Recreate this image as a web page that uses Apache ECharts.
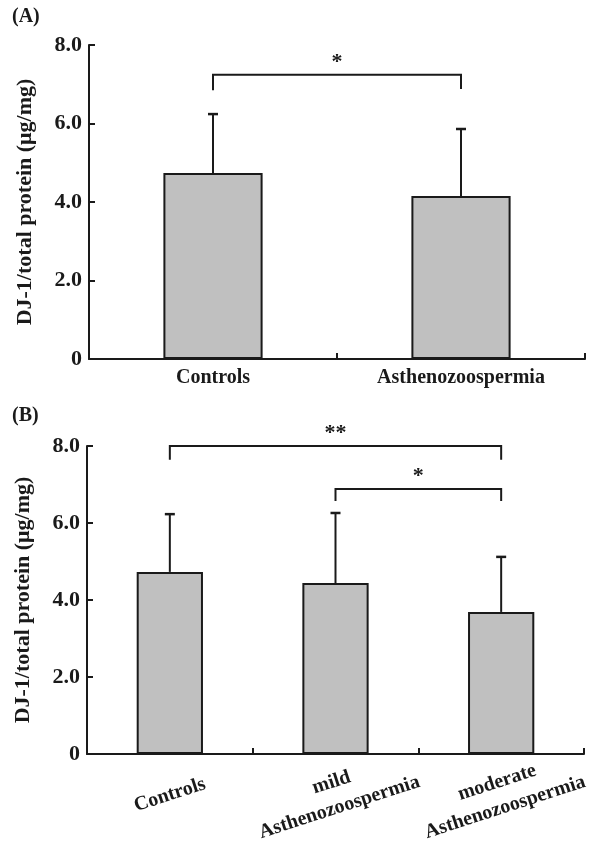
<!DOCTYPE html>
<html><head><meta charset="utf-8">
<script src="https://cdn.jsdelivr.net/npm/echarts@6/dist/echarts.min.js"></script>
<style>html,body{margin:0;padding:0;background:#fff}#c{width:593px;height:841px}</style>
</head><body><div id="c"></div>
<script>
// ---- data ----
const catsA = ['Controls', 'Asthenozoospermia'];
const meanA = [4.74, 4.15];
const sdA = [1.50, 1.71];
const catsB = ['Controls', 'mild\nAsthenozoospermia', 'moderate\nAsthenozoospermia'];
const meanB = [4.73, 4.44, 3.69];
const sdB = [1.50, 1.82, 1.43];
const yTickLabels = ['0', '2.0', '4.0', '6.0', '8.0'];
// significance brackets: [fromIndex, toIndex, barY, leftDropY, rightDropY]
const bracketsA = [[0, 1, 7.24, 6.85, 6.88]];
const bracketLabelsA = ['*'];
const bracketsB = [[0, 2, 8.0, 7.64, 7.64], [1, 2, 6.88, 6.57, 6.57]];
const bracketLabelsB = ['**', '*'];
const yName = 'DJ-1/total protein (\u03bcg/mg)';

const FONT = '"Liberation Serif","Times New Roman",serif';
const INK = '#1a1a1a';

function errData(means, sds) { return means.map((m, i) => [i, m, m + sds[i]]); }

function errRender(params, api) {
  const p0 = api.coord([api.value(0), api.value(1)]);
  const p1 = api.coord([api.value(0), api.value(2)]);
  const hw = 5;
  return { type: 'group', children: [
    { type: 'line', shape: { x1: p0[0], y1: p0[1], x2: p1[0], y2: p1[1] }, style: { stroke: INK, lineWidth: 2 } },
    { type: 'line', shape: { x1: p1[0] - hw, y1: p1[1], x2: p1[0] + hw, y2: p1[1] }, style: { stroke: INK, lineWidth: 2.5 } }
  ]};
}

function bracketRender(labels) {
  return function (params, api) {
    const a = api.coord([api.value(0), api.value(2)]);
    const b = api.coord([api.value(1), api.value(2)]);
    const ad = api.coord([api.value(0), api.value(3)]);
    const bd = api.coord([api.value(1), api.value(4)]);
    return { type: 'group', children: [
      { type: 'polyline', shape: { points: [[ad[0], ad[1]], [a[0], a[1]], [b[0], b[1]], [bd[0], bd[1]]] },
        style: { stroke: INK, lineWidth: 2, fill: 'none' } },
      { type: 'text', style: { text: labels[params.dataIndex], x: (a[0] + b[0]) / 2, y: a[1] - 2,
        align: 'center', verticalAlign: 'bottom', font: 'bold 22px ' + FONT, fill: INK } }
    ]};
  };
}

function yAxis(gridIndex) {
  return {
    type: 'value', gridIndex, min: 0, max: 8, interval: 2,
    name: yName, nameLocation: 'middle', nameGap: 53,
    nameTextStyle: { fontFamily: FONT, fontWeight: 'bold', fontSize: 22, color: INK },
    axisLine: { show: true, lineStyle: { color: INK, width: 2 } },
    axisTick: { show: true, inside: true, length: 6, lineStyle: { color: INK, width: 2 } },
    splitLine: { show: false },
    axisLabel: { margin: 7, fontFamily: FONT, fontWeight: 'bold', fontSize: 22, color: INK,
      formatter: v => yTickLabels[Math.round(v / 2)] }
  };
}

function xAxis(gridIndex, cats, labelOpts) {
  return {
    type: 'category', gridIndex, data: cats,
    axisLine: { lineStyle: { color: INK, width: 2 } },
    axisTick: { show: true, inside: true, length: 6, lineStyle: { color: INK, width: 2 } },
    axisLabel: Object.assign({ fontFamily: FONT, fontWeight: 'bold', color: INK, interval: 0 }, labelOpts)
  };
}

const chart = echarts.init(document.getElementById('c'));
chart.setOption({
  animation: false,
  backgroundColor: '#fff',
  title: [
    { text: '(A)', left: 7, top: 2, textStyle: { fontFamily: FONT, fontWeight: 'bold', fontSize: 20, color: INK } },
    { text: '(B)', left: 7, top: 401, textStyle: { fontFamily: FONT, fontWeight: 'bold', fontSize: 20, color: INK } }
  ],
  grid: [
    { left: 89, top: 45, right: 8, height: 314, outerBoundsMode: 'none', containLabel: false },
    { left: 87, top: 446, right: 9, height: 308, outerBoundsMode: 'none', containLabel: false }
  ],
  xAxis: [
    xAxis(0, catsA, { fontSize: 20, margin: 9 }),
    xAxis(1, catsB, { fontSize: 20, rotate: 18, align: 'center', verticalAlign: 'middle', margin: 41, lineHeight: 26 })
  ],
  yAxis: [yAxis(0), yAxis(1)],
  series: [
    { type: 'bar', xAxisIndex: 0, yAxisIndex: 0, data: meanA, barWidth: '40%',
      itemStyle: { color: '#c0c0c0', borderColor: INK, borderWidth: 2 } },
    { type: 'custom', xAxisIndex: 0, yAxisIndex: 0, data: errData(meanA, sdA), renderItem: errRender, z: 3 },
    { type: 'custom', xAxisIndex: 0, yAxisIndex: 0, data: bracketsA, renderItem: bracketRender(bracketLabelsA), clip: false, z: 3 },
    { type: 'bar', xAxisIndex: 1, yAxisIndex: 1, data: meanB, barWidth: '40%',
      itemStyle: { color: '#c0c0c0', borderColor: INK, borderWidth: 2 } },
    { type: 'custom', xAxisIndex: 1, yAxisIndex: 1, data: errData(meanB, sdB), renderItem: errRender, z: 3 },
    { type: 'custom', xAxisIndex: 1, yAxisIndex: 1, data: bracketsB, renderItem: bracketRender(bracketLabelsB), clip: false, z: 3 }
  ]
});
</script>
</body></html>
